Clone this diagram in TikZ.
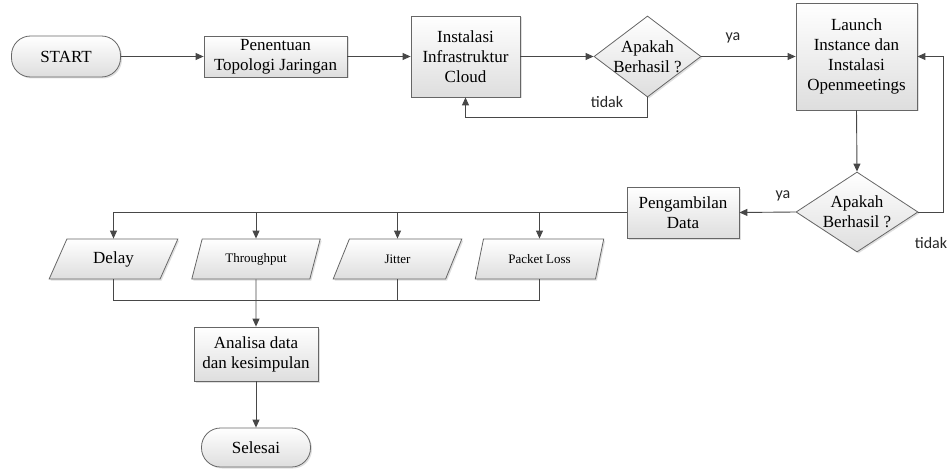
\documentclass[tikz,border=0pt]{standalone}
\usepackage{fontspec}
\setmainfont{Liberation Serif}
\newfontfamily\lblfont{Carlito}
\usetikzlibrary{shapes.geometric,arrows.meta,shadows}
\begin{document}
\begin{tikzpicture}[x=1pt,y=-1pt,
  every node/.style={font=\fontsize{17}{20}\selectfont},
  box/.style={draw=black!60, line width=0.8pt, top color=white, bottom color=black!13,
    drop shadow={opacity=0.25, shadow xshift=1.5pt, shadow yshift=-1.5pt},
    inner sep=0pt, align=center},
  term/.style={box, rounded corners=19pt},
  dec/.style={box, diamond},
  io/.style={box, trapezium, trapezium left angle=63.4, trapezium right angle=116.6,
    trapezium stretches=true, minimum width=129, minimum height=40},
  conn/.style={draw=black!72, line width=0.9pt},
  arr/.style={conn, -{Triangle[length=8pt,width=7pt]}},
  lbl/.style={font=\lblfont\fontsize{16}{18}\selectfont, text=black!85, inner sep=0pt},
  small/.style={font=\fontsize{13}{15}\selectfont}
]
\useasboundingbox (0,0) rectangle (949,468);

\node[term, minimum width=109, minimum height=41] (start) at (66,56.5) {START};
\node[box, minimum width=143, minimum height=41] (pen) at (275.5,56.5) {Penentuan\\Topologi Jaringan};
\node[box, minimum width=109, minimum height=81] (inst) at (465.5,56.5) {Instalasi\\Infrastruktur\\Cloud};
\node[dec, minimum width=107, minimum height=81] (d1) at (647.5,56.5) {};
\node[align=center, inner sep=0pt] (d1t) at (d1) {Apakah\\Berhasil ?};
\node[box, minimum width=121, minimum height=107] (launch) at (856.5,56.5) {Launch\\Instance dan\\Instalasi\\Openmeetings};

\node[dec, minimum width=122, minimum height=80] (d2) at (857,212) {};
\node[align=center, inner sep=0pt] (d2t) at (d2) {Apakah\\Berhasil ?};
\node[box, minimum width=112, minimum height=51] (peng) at (683,212.5) {Pengambilan\\Data};

\node[io] (delay) at (113.5,259) {Delay};
\node[io, small] (thr) at (256,259) {Throughput};
\node[io, small] (jit) at (397.5,259) {Jitter};
\node[io, small] (pkt) at (539.5,259) {Packet Loss};

\node[box, minimum width=124, minimum height=54] (ana) at (256,354) {Analisa data\\dan kesimpulan};
\node[term, minimum width=109, minimum height=39] (sel) at (256,447.5) {Selesai};

\coordinate (jn) at (256,300);

\draw[arr] (start) -- (pen);
\draw[arr] (pen) -- (inst);
\draw[arr] (inst) -- (d1);
\draw[arr] (d1) -- (launch);
\draw[arr] (d1.south) -- ++(0,20) -| (inst.south);
\draw[arr] (launch.south) -- (d2.north);
\draw[arr] (d2.east) -- ++(25,0) |- (launch.east);
\draw[arr] (d2.west) -- (peng.east);

\draw[arr] (peng.west) -| (delay.north);
\draw[arr] (thr.north |- peng.west) -- (thr.north);
\draw[arr] (jit.north |- peng.west) -- (jit.north);
\draw[arr] (pkt.north |- peng.west) -- (pkt.north);

\draw[conn] (delay.south) |- (jn);
\draw[conn] (pkt.south) |- (jn);
\draw[conn] (jit.south) -- (jit.south |- jn);
\draw[arr] (thr.south) -- (ana.north);
\draw[arr] (ana) -- (sel);

\node[lbl] (ya1) at (733,38) {ya};
\node[lbl] (td1) at (607,102) {tidak};
\node[lbl] (ya2) at (783,196) {ya};
\node[lbl] (td2) at (931,243) {tidak};
\end{tikzpicture}
\end{document}
